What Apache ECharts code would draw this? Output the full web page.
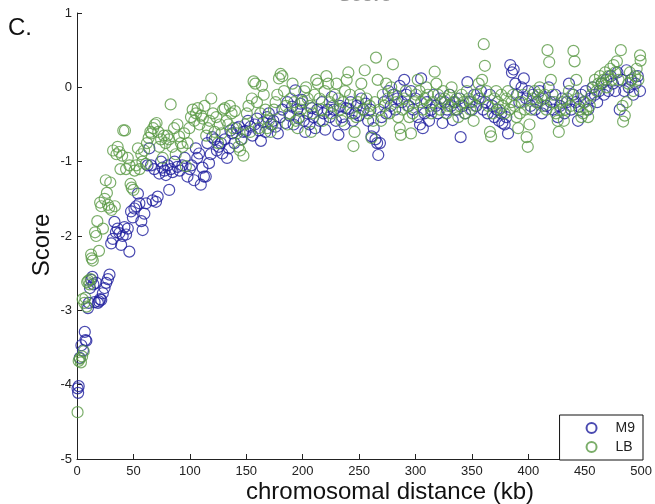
<!DOCTYPE html>
<html>
<head>
<meta charset="utf-8">
<script src="https://cdn.jsdelivr.net/npm/echarts@6/dist/echarts.min.js"></script>
<style>
html,body{margin:0;padding:0;background:#fff;}
#chart{width:655px;height:504px;}
</style>
</head>
<body>
<div id="chart"></div>
<script>
const seriesNames = ['M9', 'LB'];
const xTickValues = [0, 50, 100, 150, 200, 250, 300, 350, 400, 450, 500];
const yTickValues = [-5, -4, -3, -2, -1, 0, 1];

const m9Points = [
[0.5,-4.05],[1,-4.11],[1.5,-4.02],[2.4,-3.64],[3.9,-3.47],[5.3,-3.54],[6.9,-3.29],[8.3,-3.41],[7.5,-3.4],[9.7,-2.97],
[10.5,-2.9],[11.5,-2.7],[12.7,-2.59],[13.6,-2.55],[14.5,-2.65],[15.6,-2.89],[17.1,-2.63],[18.5,-2.9],[19.5,-2.88],[20.5,-2.85],
[21.5,-2.86],[22.9,-2.77],[24.4,-2.7],[25.9,-2.63],[27.4,-2.58],[28.8,-2.52],[30.3,-2.1],[31.8,-2.04],[33.2,-1.81],[34.5,-1.95],
[36,-1.9],[37.6,-1.96],[39.1,-2.12],[40.5,-2.0],[42,-1.88],[43.5,-1.98],[45,-1.9],[46.4,-2.21],[47.9,-1.67],[49.5,-1.75],
[50.9,-1.63],[52.5,-1.6],[54,-1.43],[55.3,-1.56],[57,-1.8],[58.2,-1.92],[59.7,-1.7],[61.2,-1.56],[62.5,-1.05],[64.1,-0.82],
[65.6,-1.05],[67,-1.52],[68.5,-1.1],[70,-1.54],[71.5,-1.47],[72.9,-1.16],[74.5,-1.0],[75.8,-1.08],[77.5,-1.12],[78.8,-1.18],
[80.5,-1.05],[81.7,-1.38],[83,-1.1],[84.7,-1.14],[86.5,-1.0],[89,-1.07],[91,-1.12],[93.4,-1.05],[95.5,-0.95],[97.9,-1.2],
[100,-1.1],[101.5,-1.05],[103.8,-1.25],[105.3,-0.82],[106.5,-0.95],[108.2,-0.89],[109.7,-1.31],[111.2,-1.08],[112.5,-1.2],[114.1,-1.2],
[115.5,-0.75],[117,-1.02],[118.5,-0.9],[119.9,-0.67],[122,-0.7],[124,-0.85],[125.8,-0.8],[127.5,-0.75],[128.8,-0.89],[131,-0.7],
[133,-0.95],[134.7,-0.82],[136,-0.58],[137.6,-0.62],[139.5,-0.75],[141.5,-0.55],[143.5,-0.53],[145.5,-0.7],[147.5,-0.6],[149.4,-0.59],
[151.5,-0.45],[153.8,-0.53],[155.5,-0.65],[157.5,-0.5],[159.5,-0.42],[161.2,-0.58],[163,-0.72],[165,-0.47],[167,-0.6],[168.5,-0.4],
[170,-0.35],[172,-0.5],[174,-0.45],[176,-0.53],[178,-0.62],[180,-0.4],[182,-0.3],[184.7,-0.48],[186.5,-0.2],[188.5,-0.38],
[190.6,-0.26],[192,-0.5],[193.5,-0.04],[195,-0.3],[196.4,-0.42],[198,-0.22],[199.4,-0.17],[201,-0.45],[202.3,-0.6],[204,-0.35],
[206,-0.5],[208,-0.28],[209.5,-0.4],[211.2,-0.55],[213,-0.3],[215,-0.45],[217,-0.2],[218.5,-0.35],[220,-0.57],[222,-0.3],
[224,-0.4],[225.8,-0.13],[227.5,-0.3],[229.5,-0.45],[231.7,-0.64],[233,-0.25],[235,-0.4],[237,-0.5],[238.5,-0.28],[240.5,-0.29],
[242.5,-0.2],[244.5,-0.45],[246.4,-0.35],[248,-0.25],[250,-0.38],[252,-0.15],[254,-0.3],[256,-0.22],[258,-0.45],[260,-0.3],
[261,-0.66],[263,-0.55],[264.5,-0.7],[266,-0.75],[267,-0.91],[268.5,-0.75],[270,-0.4],[272,-0.2],[274,-0.35],[276,-0.05],
[278,-0.25],[280,-0.1],[282,-0.3],[284,-0.15],[286,0.02],[288,-0.2],[290,0.1],[292,-0.1],[294,-0.25],[296,-0.05],
[298,-0.3],[300,-0.15],[302,-0.4],[304,-0.5],[305,0.12],[306.5,-0.55],[308,-0.35],[310,-0.2],[312,-0.45],[314,-0.3],
[316,-0.1],[318,-0.25],[320,-0.35],[322,-0.15],[324,-0.48],[326,-0.2],[328,-0.3],[330,-0.1],[331.5,-0.25],[333,-0.44],
[335,-0.2],[337,-0.3],[339,-0.15],[340,-0.67],[342,-0.25],[344,-0.35],[346,0.07],[348,-0.2],[350,-0.3],[352,-0.1],
[354,-0.25],[356,-0.15],[358,-0.05],[360,-0.3],[362,-0.2],[364,-0.35],[366,-0.1],[368,-0.25],[370,-0.4],[372,-0.3],
[374,-0.45],[376,-0.35],[377,-0.48],[379,-0.5],[380.5,-0.4],[382,-0.62],[384,0.3],[385.5,0.2],[387,0.24],[388.5,0.05],
[390,-0.1],[392,-0.2],[394,0.0],[396,0.12],[398,-0.15],[400,-0.05],[402,-0.25],[404,-0.1],[406,-0.3],[408,-0.2],
[410,-0.05],[412,-0.35],[414,-0.15],[416,-0.25],[418,0.0],[420,-0.2],[422,-0.3],[424,-0.1],[426,-0.4],[428,-0.25],
[430,-0.15],[432,-0.35],[434,-0.2],[436,0.05],[438,-0.3],[440,-0.1],[442,-0.2],[444,-0.45],[445,-0.26],[447,-0.1],
[449,-0.2],[451,-0.05],[453,-0.3],[455,-0.15],[457,0.0],[459,-0.1],[461,-0.2],[463,-0.05],[465,0.05],[467,-0.1],
[469,0.1],[471,-0.05],[473,0.15],[475,0.05],[477,-0.05],[479,0.2],[481,-0.3],[483,0.1],[485,-0.05],[487,0.23],
[489,0.0],[491,0.1],[493,-0.1],[495,0.05],[497,0.15],[499,-0.05]
];

const lbPoints = [
[0.5,-4.37],[1.5,-3.68],[2.5,-3.65],[3.5,-3.7],[4.5,-3.62],[6,-3.55],[5,-2.85],[6.5,-2.9],[7.5,-2.83],[8.5,-2.95],
[9,-2.62],[10,-2.6],[11,-2.65],[12,-2.58],[13,-2.3],[14,-2.33],[12.5,-2.25],[16,-1.95],[17,-2.0],[18,-1.8],
[19.5,-2.2],[20.5,-1.55],[21.5,-1.6],[23,-1.9],[24.5,-1.5],[25.5,-1.25],[26.5,-1.42],[27.5,-1.58],[28.5,-1.62],[29.5,-1.28],
[30.5,-1.65],[32,-0.85],[33.5,-1.6],[35,-0.9],[36,-0.8],[37.5,-0.87],[38.5,-1.1],[40,-0.92],[41,-0.58],[42.5,-0.58],
[43.5,-1.1],[45,-0.95],[46.5,-1.05],[47.5,-1.3],[48.5,-1.35],[50,-1.38],[51,-1.12],[52.5,-1.05],[54,-0.82],[55.5,-1.1],
[57,-0.9],[58,-1.0],[59.5,-0.85],[61,-1.03],[62,-0.75],[63.5,-0.68],[65,-0.6],[66,-0.62],[67.5,-0.55],[69,-0.5],
[70.5,-0.48],[72,-0.6],[73,-0.8],[74.5,-0.7],[76,-0.95],[77,-0.65],[78.5,-0.75],[80,-0.65],[81.5,-0.7],[83,-0.23],
[84.5,-0.8],[86,-0.55],[87.5,-0.9],[89,-0.5],[90.5,-0.66],[92,-0.75],[93.5,-0.8],[95,-0.62],[96.5,-1.06],[98,-0.75],
[99.5,-0.55],[101,-0.4],[102.5,-0.3],[104,-0.45],[105.5,-0.35],[107,-0.28],[108.5,-0.5],[110,-0.38],[111.5,-0.42],[113,-0.25],
[114.5,-0.65],[116,-0.55],[117.5,-0.45],[119,-0.15],[120.5,-0.35],[122,-0.6],[123.5,-0.4],[125,-0.75],[126.5,-0.5],[128,-0.62],
[129.5,-0.3],[131,-0.28],[132.5,-0.45],[134,-0.5],[135.5,-0.25],[137,-0.35],[138.5,-0.55],[140,-0.32],[141.5,-0.62],[143,-0.8],
[144.5,-0.85],[146,-0.7],[147.5,-0.92],[149,-0.5],[150.5,-0.35],[152,-0.25],[153.5,-0.6],[155,-0.15],[156.5,0.08],[158,0.05],
[159.5,-0.2],[161,-0.55],[162.5,-0.35],[164,0.02],[165.5,-0.1],[167,-0.3],[168.5,-0.55],[170,-0.45],[171.5,-0.6],[173,-0.5],
[174.5,-0.3],[176,-0.2],[177.5,-0.1],[179,0.12],[180.5,0.18],[182,0.15],[183.5,-0.05],[185,-0.25],[186.5,-0.5],[188,-0.35],
[189.5,-0.15],[191,0.05],[192.5,-0.2],[194,-0.45],[195.5,-0.55],[197,-0.4],[198.5,-0.3],[200,-0.2],[201.5,-0.05],[203,0.0],
[204.5,-0.15],[206,-0.25],[207.5,-0.6],[209,-0.35],[210.5,-0.1],[212,0.1],[213.5,0.05],[215,-0.15],[216.5,-0.3],[218,-0.45],
[219.5,-0.05],[221,0.15],[222.5,0.05],[224,-0.2],[225.5,-0.35],[227,-0.25],[228.5,-0.1],[230,0.05],[231.5,-0.15],[233,-0.3],
[234.5,-0.45],[236,-0.2],[237.5,-0.05],[239,0.1],[240.5,0.2],[242,-0.1],[243.5,-0.35],[245,-0.79],[246,-0.6],[247.5,-0.4],
[249,-0.2],[250.5,-0.1],[252,0.05],[253.5,-0.3],[255,0.23],[256.5,-0.15],[258,-0.35],[259.5,-0.25],[261,-0.68],[262.5,-0.45],
[264,-0.2],[265,0.4],[266.5,0.1],[268,-0.3],[269.5,-0.45],[271,-0.1],[272.5,-0.25],[274,0.05],[275.5,-0.15],[277,-0.35],
[278.5,0.0],[280,0.31],[281.5,-0.1],[283,-0.2],[284.5,-0.4],[286,-0.55],[287,-0.64],[288.5,-0.3],[290,-0.15],[291.5,-0.05],
[293,-0.25],[294.5,-0.4],[296,-0.62],[297.5,-0.35],[299,-0.2],[300.5,-0.1],[302,0.1],[303.5,-0.05],[305,-0.2],[306.5,-0.3],
[308,-0.15],[309.5,0.0],[311,-0.1],[312.5,-0.25],[314,-0.35],[315.5,-0.2],[317,0.21],[318.5,0.05],[320,-0.1],[321.5,-0.3],
[323,-0.2],[324.5,-0.05],[326,-0.15],[327.5,-0.35],[329,-0.25],[330.5,-0.1],[332,0.0],[333.5,-0.2],[335,-0.3],[336.5,-0.15],
[338,-0.4],[339.5,-0.25],[341,-0.1],[342.5,-0.2],[344,-0.35],[345.5,-0.05],[347,-0.15],[348.5,-0.3],[350,-0.2],[351.5,-0.45],
[353,-0.25],[354.5,-0.1],[356,0.05],[357.5,-0.15],[359,0.1],[360.5,0.58],[361.5,0.29],[363,-0.05],[364.5,-0.25],[366,-0.6],
[367,-0.66],[368.5,-0.35],[370,-0.15],[371.5,-0.05],[373,-0.2],[374.5,-0.3],[376,-0.1],[377.5,-0.25],[379,-0.35],[380.5,-0.15],
[382,-0.05],[383.5,-0.3],[385,-0.2],[386.5,-0.1],[388,-0.25],[389.5,-0.4],[391,-0.55],[392.5,-0.35],[394,-0.2],[395.5,-0.1],
[397,-0.3],[398.5,-0.67],[399.5,-0.8],[401,-0.5],[402.5,-0.3],[404,-0.15],[405.5,-0.05],[407,-0.2],[408.5,-0.1],[410,0.0],
[411.5,-0.15],[413,-0.25],[414.5,-0.1],[416,-0.3],[417,0.5],[418.5,0.34],[420,0.1],[421.5,-0.1],[423,-0.2],[424.5,-0.35],
[426,-0.45],[427,-0.6],[428.5,-0.3],[430,-0.2],[431.5,-0.45],[433,-0.3],[434.5,-0.15],[436,-0.05],[437.5,-0.25],[439,-0.1],
[440,0.49],[441,0.35],[442.5,0.1],[444,-0.15],[445.5,-0.3],[447,-0.4],[448.5,-0.35],[450,-0.2],[451.5,-0.3],[453,-0.4],
[454.5,-0.25],[456,-0.1],[457.5,0.0],[459,0.1],[460.5,-0.05],[462,0.05],[463.5,0.15],[465,0.05],[466.5,0.1],[468,0.2],
[469.5,0.0],[471,0.15],[472.5,0.25],[474,0.1],[475.5,0.3],[477,0.2],[478.5,0.35],[480,0.1],[482,0.5],[483.5,-0.25],
[484,-0.46],[485.5,-0.38],[487,-0.2],[488.5,0.05],[490,0.2],[491.5,0.1],[493,-0.05],[494.5,0.15],[496,0.25],[497.5,0.1],
[499,0.43],[499.5,0.36]
];

const FONT = '"Liberation Sans", Arial, Helvetica, sans-serif';
const BLUE = '#1e1e9e';
const GREEN = '#5a9a45';

const chart = echarts.init(document.getElementById('chart'), null, {renderer: 'canvas'});
chart.setOption({
  animation: false,
  backgroundColor: '#ffffff',
  grid: {left: 77, right: 11, top: 13, bottom: 45, containLabel: false},
  xAxis: {
    type: 'value', min: xTickValues[0], max: xTickValues[xTickValues.length - 1], interval: 50,
    splitLine: {show: false},
    axisLine: {onZero: false, lineStyle: {color: '#222', width: 1}},
    axisTick: {inside: true, length: 5, lineStyle: {color: '#222'}},
    axisLabel: {color: '#222', fontSize: 13, fontFamily: FONT, margin: 6}
  },
  yAxis: {
    type: 'value', min: yTickValues[0], max: yTickValues[yTickValues.length - 1], interval: 1,
    splitLine: {show: false},
    axisLine: {onZero: false, lineStyle: {color: '#222', width: 1}},
    axisTick: {inside: true, length: 5, lineStyle: {color: '#222'}},
    axisLabel: {color: '#222', fontSize: 13, fontFamily: FONT, margin: 5}
  },
  legend: {
    orient: 'vertical', right: 12, bottom: 44,
    backgroundColor: '#fff', borderColor: '#111', borderWidth: 1, borderRadius: 0,
    padding: [6, 8, 6, 26], itemGap: 5, itemWidth: 10, itemHeight: 10,
    textStyle: {color: '#222', fontSize: 14, fontFamily: FONT, padding: [0, 0, 0, 14]},
    data: seriesNames
  },
  graphic: [
    {type: 'text', left: 8, top: 16, style: {text: 'C.', font: '24px ' + FONT, fill: '#111'}},
    {type: 'text', x: 365, y: 5, style: {text: 'Score', font: 'bold 19px ' + FONT, fill: '#999', textAlign: 'center', textVerticalAlign: 'bottom'}},
    {type: 'text', x: 390, y: 492, style: {text: 'chromosomal distance (kb)', font: '24px ' + FONT, fill: '#111', textAlign: 'center', textVerticalAlign: 'middle'}},
    {type: 'text', x: 42, y: 245, rotation: Math.PI / 2, style: {text: 'Score', font: '24px ' + FONT, fill: '#111', textAlign: 'center', textVerticalAlign: 'middle'}}
  ],
  series: [
    {name: seriesNames[0], type: 'scatter', data: m9Points, symbol: 'circle', symbolSize: 11,
     itemStyle: {color: 'rgba(0,0,0,0)', borderColor: BLUE, borderWidth: 1.2}},
    {name: seriesNames[1], type: 'scatter', data: lbPoints, symbol: 'circle', symbolSize: 11,
     itemStyle: {color: 'rgba(0,0,0,0)', borderColor: GREEN, borderWidth: 1.2}}
  ]
});
</script>
</body>
</html>
